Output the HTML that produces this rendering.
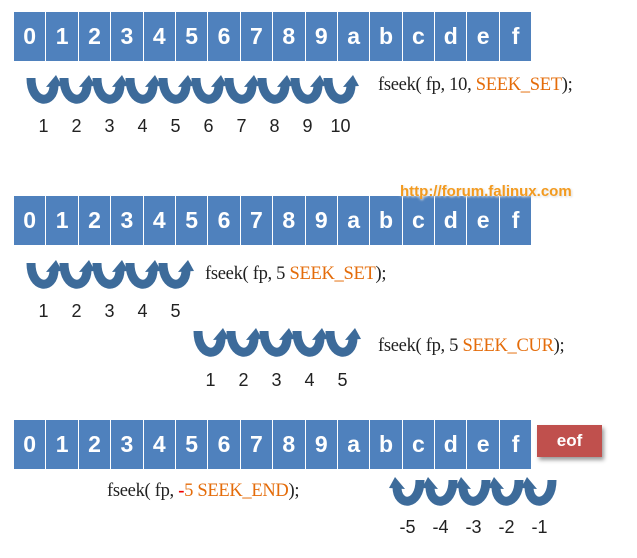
<!DOCTYPE html>
<html><head><meta charset="utf-8"><style>
body{margin:0;width:637px;height:558px;background:#fff;position:relative;overflow:hidden;font-family:"Liberation Sans",sans-serif}
.row{position:absolute;left:14px;display:flex}
.c{width:31.4px;height:49px;background:#4f81bd;border-right:1px solid #fff;color:#fff;font-weight:bold;font-size:23px;display:flex;align-items:center;justify-content:center}
.t{position:absolute;font-family:"Liberation Serif",serif;font-size:18.5px;color:#222;white-space:nowrap;letter-spacing:-0.3px}
.o{color:#e46c0a}
.n{position:absolute;font-size:18px;color:#222;white-space:nowrap;word-spacing:0}
.n span{display:inline-block;width:33px;text-align:center}
</style></head><body>
<div class="row" style="top:12px"><div class="c">0</div><div class="c">1</div><div class="c">2</div><div class="c">3</div><div class="c">4</div><div class="c">5</div><div class="c">6</div><div class="c">7</div><div class="c">8</div><div class="c">9</div><div class="c">a</div><div class="c">b</div><div class="c">c</div><div class="c">d</div><div class="c">e</div><div class="c">f</div></div>
<div class="row" style="top:196px"><div class="c">0</div><div class="c">1</div><div class="c">2</div><div class="c">3</div><div class="c">4</div><div class="c">5</div><div class="c">6</div><div class="c">7</div><div class="c">8</div><div class="c">9</div><div class="c">a</div><div class="c">b</div><div class="c">c</div><div class="c">d</div><div class="c">e</div><div class="c">f</div></div>
<div class="row" style="top:420px"><div class="c">0</div><div class="c">1</div><div class="c">2</div><div class="c">3</div><div class="c">4</div><div class="c">5</div><div class="c">6</div><div class="c">7</div><div class="c">8</div><div class="c">9</div><div class="c">a</div><div class="c">b</div><div class="c">c</div><div class="c">d</div><div class="c">e</div><div class="c">f</div></div>
<div style="position:absolute;left:537px;top:425px;width:65px;height:32px;background:#c0504d;color:#fff;font-weight:bold;font-size:17px;display:flex;align-items:center;justify-content:center;box-shadow:2px 3px 4px #999">eof</div>
<div style="position:absolute;left:400px;top:183px;color:#f39a1e;font-weight:bold;font-size:15px;text-shadow:0 0 3px #fff,1px 1px 2px #ccc">http://forum.falinux.com</div>
<svg width="637" height="558" style="position:absolute;left:0;top:0">
<defs><g id="a"><path d="M5,3 C5,30 28,30 28,10" fill="none" stroke="#3d6b9a" stroke-width="9"/><polygon points="20,12 36,11 30,0" fill="#3d6b9a"/></g></defs>
<g transform="translate(26,75)"><use href="#a" x="0"/><use href="#a" x="33"/><use href="#a" x="66"/><use href="#a" x="99"/><use href="#a" x="132"/><use href="#a" x="165"/><use href="#a" x="198"/><use href="#a" x="231"/><use href="#a" x="264"/><use href="#a" x="297"/></g>
<g transform="translate(26,260)"><use href="#a" x="0"/><use href="#a" x="33"/><use href="#a" x="66"/><use href="#a" x="99"/><use href="#a" x="132"/></g>
<g transform="translate(193,328)"><use href="#a" x="0"/><use href="#a" x="33"/><use href="#a" x="66"/><use href="#a" x="99"/><use href="#a" x="132"/></g>
<g transform="translate(557,477) scale(-1,1)"><use href="#a" x="0"/><use href="#a" x="33"/><use href="#a" x="66"/><use href="#a" x="99"/><use href="#a" x="132"/></g>
</svg>
<div class="t" style="left:378px;top:75px">fseek( fp, 10, <span class="o">SEEK_SET</span>);</div>
<div class="t" style="left:205px;top:264px">fseek( fp, 5 <span class="o">SEEK_SET</span>);</div>
<div class="t" style="left:378px;top:336px">fseek( fp, 5 <span class="o">SEEK_CUR</span>);</div>
<div class="t" style="left:107px;top:481px">fseek( fp, <span style="color:#e00;font-weight:bold">-</span><span class="o">5 SEEK_END</span>);</div>
<div class="n" style="left:27px;top:116px"><span>1</span><span>2</span><span>3</span><span>4</span><span>5</span><span>6</span><span>7</span><span>8</span><span>9</span><span>10</span></div>
<div class="n" style="left:27px;top:301px"><span>1</span><span>2</span><span>3</span><span>4</span><span>5</span></div>
<div class="n" style="left:194px;top:370px"><span>1</span><span>2</span><span>3</span><span>4</span><span>5</span></div>
<div class="n" style="left:391px;top:517px"><span>-5</span><span>-4</span><span>-3</span><span>-2</span><span>-1</span></div>
</body></html>
